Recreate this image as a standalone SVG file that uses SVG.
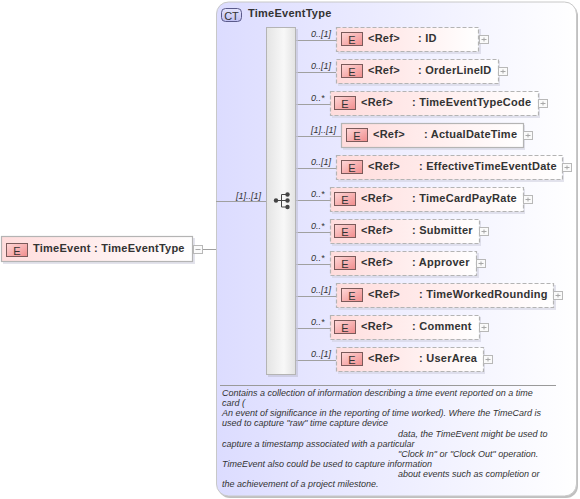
<svg xmlns="http://www.w3.org/2000/svg" width="580" height="499" viewBox="0 0 580 499">
<defs>
<linearGradient id="ct" x1="0" y1="0" x2="1" y2="0"><stop offset="0" stop-color="#dcdcff"/><stop offset="1" stop-color="#ffffff"/></linearGradient>
<linearGradient id="el" x1="0" y1="0" x2="1" y2="0"><stop offset="0" stop-color="#ffdcdc"/><stop offset="1" stop-color="#ffffff"/></linearGradient>
<linearGradient id="bar" x1="0" y1="0" x2="1" y2="0"><stop offset="0" stop-color="#e4e4e4"/><stop offset=".6" stop-color="#f8f8f8"/><stop offset="1" stop-color="#e2e2e2"/></linearGradient>
<linearGradient id="badge" x1="0" y1="0" x2="1" y2="1"><stop offset="0" stop-color="#ffd8d8"/><stop offset="1" stop-color="#f08c8c"/></linearGradient>
<linearGradient id="ctb" x1="0" y1="0" x2="0" y2="1"><stop offset="0" stop-color="#e4e4fd"/><stop offset="1" stop-color="#c0c0f2"/></linearGradient>
<g id="e"><rect x="0" y="0" width="21" height="13" fill="url(#badge)" stroke="#7a5a5a" stroke-width="1"/><text x="10.500" y="11.500" text-anchor="middle" class="g">E</text></g>
<g id="plus"><rect x="0" y="0" width="9" height="8" fill="#fafafa" stroke="#b8b8b8"/><path d="M2 4H7M4.500 2V6" stroke="#a8a8a8" fill="none"/></g>
<g id="minus"><rect x="0" y="0" width="9" height="8" fill="#fafafa" stroke="#b8b8b8"/><path d="M2 4H7" stroke="#a8a8a8" fill="none"/></g>
</defs>
<style>
text{font-family:"Liberation Sans",Arial,sans-serif;fill:#333}
.b{font-size:11px;font-weight:bold;letter-spacing:.25px}
.g{font-size:11px}
.c{font-size:9px;font-style:italic}
.d{font-size:9px;font-style:italic}
.n{fill:url(#el);stroke:#b4b4b4;stroke-width:1.200}
.o{stroke-dasharray:4 2}
.s{fill:#d0d0e0;opacity:.6}
.l{stroke:#a0a0a0;stroke-width:1;fill:none}
</style>
<g id="TimeEventType">
<rect x="218" y="4" width="360" height="494" rx="12" fill="#c0c0c0"/>
<rect x="216.500" y="2" width="360" height="494" rx="12" fill="url(#ct)" stroke="#c8c8c8"/>
<rect x="221.500" y="8.500" width="20" height="13" rx="4" fill="url(#ctb)" stroke="#5a5a8a"/>
<text x="231.500" y="19.500" text-anchor="middle" class="g">CT</text>
<text x="248" y="17" class="b">TimeEventType</text>
<path d="M220 385.500H556" stroke="#9a9a9a"/>
<text class="d" x="222" y="396">Contains a collection of information describing a time event reported on a time</text>
<text class="d" x="222" y="406">card (</text>
<text class="d" x="222" y="416">An event of significance in the reporting of time worked). Where the TimeCard is</text>
<text class="d" x="222" y="426">used to capture "raw" time capture device</text>
<text class="d" x="398" y="437">data, the TimeEvent might be used to</text>
<text class="d" x="222" y="447">capture a timestamp associated with a particular</text>
<text class="d" x="398" y="457">"Clock In" or "Clock Out" operation.</text>
<text class="d" x="222" y="467">TimeEvent also could be used to capture information</text>
<text class="d" x="398" y="477">about events such as completion or</text>
<text class="d" x="222" y="487">the achievement of a project milestone.</text>
</g>
<g id="connectors">
<path class="l" d="M202 249.500H216M216 201.500H266M296 40.500H336M296 72.500H336M296 104.500H330M296 136.500H341M296 168.500H336M296 200.500H330M296 232.500H330M296 264.500H330M296 296.500H336M296 328.500H330M296 360.500H336"/>
<text class="c" x="236" y="199">[1]..[1]</text>
<text class="c" x="311" y="37">0..[1]</text>
<text class="c" x="311" y="69">0..[1]</text>
<text class="c" x="311" y="101">0..*</text>
<text class="c" x="311" y="133">[1]..[1]</text>
<text class="c" x="311" y="165">0..[1]</text>
<text class="c" x="311" y="197">0..*</text>
<text class="c" x="311" y="229">0..*</text>
<text class="c" x="311" y="261">0..*</text>
<text class="c" x="311" y="293">0..[1]</text>
<text class="c" x="311" y="325">0..*</text>
<text class="c" x="311" y="357">0..[1]</text>
</g>
<g id="sequence">
<rect x="268" y="29" width="30" height="348" fill="#c4c4d8" opacity=".7"/>
<rect x="266.500" y="27.500" width="29" height="347" fill="url(#bar)" stroke="#b4b4b4"/>
<g fill="#444" stroke="none"><circle cx="276" cy="200.500" r="2.200"/><circle cx="287.500" cy="194.500" r="2.200"/><circle cx="287.500" cy="200.500" r="2.200"/><circle cx="287.500" cy="207" r="2.200"/></g>
<path d="M276 200.500H287M281.500 194.500V207M281.500 194.500H287M281.500 207H287" stroke="#444" fill="none"/>
</g>
<g id="TimeEvent">
<rect x="3" y="238" width="192" height="26" class="s"/>
<rect x="1.500" y="236.500" width="191" height="25" class="n"/>
<use href="#e" x="6.500" y="243.500"/>
<text x="33" y="252" class="b">TimeEvent  : TimeEventType</text>
<use href="#minus" x="193.500" y="245.500"/>
</g>
<g id="ID"><rect x="338" y="29" width="143" height="25" class="s"/><rect x="336.500" y="27.500" width="142" height="24" class="n o"/><use href="#e" x="341.500" y="32.500"/><text x="368" y="42" class="b">&lt;Ref&gt;</text><text x="418" y="42" class="b">: ID</text><use href="#plus" x="479.500" y="35.500"/></g>
<g id="OrderLineID"><rect x="338" y="61" width="162" height="25" class="s"/><rect x="336.500" y="59.500" width="162" height="24" class="n o"/><use href="#e" x="341.500" y="64.500"/><text x="368" y="74" class="b">&lt;Ref&gt;</text><text x="418" y="74" class="b">: OrderLineID</text><use href="#plus" x="498.500" y="67.500"/></g>
<g id="TimeEventTypeCode"><rect x="332" y="93" width="208" height="25" class="s"/><rect x="330.500" y="91.500" width="208" height="24" class="n o"/><use href="#e" x="334.500" y="96.500"/><text x="361" y="106" class="b">&lt;Ref&gt;</text><text x="412" y="106" class="b">: TimeEventTypeCode</text><use href="#plus" x="538.500" y="99.500"/></g>
<g id="ActualDateTime"><rect x="343" y="125" width="182" height="25" class="s"/><rect x="341.500" y="123.500" width="182" height="24" class="n"/><use href="#e" x="346.500" y="128.500"/><text x="373" y="138" class="b">&lt;Ref&gt;</text><text x="424" y="138" class="b">: ActualDateTime</text><use href="#plus" x="523.500" y="131.500"/></g>
<g id="EffectiveTimeEventDate"><rect x="338" y="157" width="226" height="25" class="s"/><rect x="336.500" y="155.500" width="226" height="24" class="n o"/><use href="#e" x="341.500" y="160.500"/><text x="368" y="170" class="b">&lt;Ref&gt;</text><text x="419" y="170" class="b">: EffectiveTimeEventDate</text><use href="#plus" x="562.500" y="163.500"/></g>
<g id="TimeCardPayRate"><rect x="332" y="189" width="193" height="25" class="s"/><rect x="330.500" y="187.500" width="193" height="24" class="n o"/><use href="#e" x="334.500" y="192.500"/><text x="361" y="202" class="b">&lt;Ref&gt;</text><text x="412" y="202" class="b">: TimeCardPayRate</text><use href="#plus" x="523.500" y="195.500"/></g>
<g id="Submitter"><rect x="332" y="221" width="149" height="25" class="s"/><rect x="330.500" y="219.500" width="149" height="24" class="n o"/><use href="#e" x="334.500" y="224.500"/><text x="361" y="234" class="b">&lt;Ref&gt;</text><text x="412" y="234" class="b">: Submitter</text><use href="#plus" x="479.500" y="227.500"/></g>
<g id="Approver"><rect x="332" y="253" width="147" height="25" class="s"/><rect x="330.500" y="251.500" width="146" height="24" class="n o"/><use href="#e" x="334.500" y="256.500"/><text x="361" y="266" class="b">&lt;Ref&gt;</text><text x="412" y="266" class="b">: Approver</text><use href="#plus" x="476.500" y="259.500"/></g>
<g id="TimeWorkedRounding"><rect x="338" y="285" width="218" height="25" class="s"/><rect x="336.500" y="283.500" width="217" height="24" class="n o"/><use href="#e" x="341.500" y="288.500"/><text x="368" y="298" class="b">&lt;Ref&gt;</text><text x="419" y="298" class="b">: TimeWorkedRounding</text><use href="#plus" x="553.500" y="291.500"/></g>
<g id="Comment"><rect x="332" y="317" width="149" height="25" class="s"/><rect x="330.500" y="315.500" width="149" height="24" class="n o"/><use href="#e" x="334.500" y="320.500"/><text x="361" y="330" class="b">&lt;Ref&gt;</text><text x="412" y="330" class="b">: Comment</text><use href="#plus" x="479.500" y="323.500"/></g>
<g id="UserArea"><rect x="338" y="349" width="147" height="25" class="s"/><rect x="336.500" y="347.500" width="147" height="24" class="n o"/><use href="#e" x="341.500" y="352.500"/><text x="368" y="362" class="b">&lt;Ref&gt;</text><text x="419" y="362" class="b">: UserArea</text><use href="#plus" x="483.500" y="355.500"/></g>
</svg>
